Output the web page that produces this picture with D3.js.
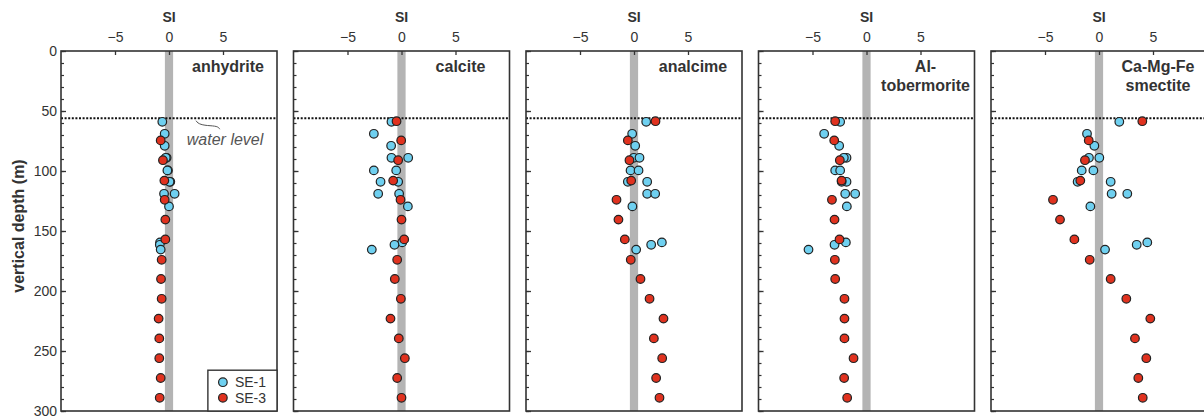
<!DOCTYPE html>
<html>
<head>
<meta charset="utf-8">
<script src="https://cdn.jsdelivr.net/npm/d3@7"></script>
<style>
  html, body { margin: 0; padding: 0; background: #fff; }
  svg { display: block; font-family: "Liberation Sans", Arial, sans-serif; }
</style>
</head>
<body>
<svg id="chart" width="1204" height="417"></svg>
<script>
// ---------------- DATA ----------------
const minerals = ["anhydrite", "calcite", "analcime", "Al-|tobermorite", "Ca-Mg-Fe|smectite"];
const siTicks = [-5, 0, 5];
const depthMajorTicks = [0, 50, 100, 150, 200, 250, 300];
const depthMinorTicks = d3.range(0, 301, 10);
const waterLevelDepth = 56;

// sampling depths (m)
const se1Depth = [59, 69, 79, 89, 89, 99.5, 99.5, 109, 109, 119, 119, 129.5, 159.5, 161.5, 165.5];
const se3Depth = [58.5, 74.5, 91, 108, 124, 140.5, 157, 174, 190, 206.5, 223, 239.5, 256, 272.5, 289];

// saturation indices, SE-1
const se1Anhydrite  = [-0.62, -0.4, -0.4, -0.22, -0.3, -0.1, -0.15, 0.12, 0.05, -0.46, 0.52, 0.0, -0.83, -0.85, -0.77];
const se1Calcite    = [-0.93, -2.56, -0.96, -0.93, 0.62, -2.56, -0.49, -1.94, -0.31, -2.16, -0.22, 0.59, 0.06, -0.65, -2.75];
const se1Analcime   = [1.13, -0.17, 0.11, -0.02, 0.51, -0.32, 0.42, -0.57, 1.22, 1.22, 1.96, -0.15, 2.58, 1.59, 0.2];
const se1Tobermorite= [-2.44, -3.92, -2.53, -1.85, -2.1, -2.9, -2.44, -1.85, -2.3, -1.97, -1.05, -1.82, -1.91, -2.96, -5.37];
const se1Smectite   = [1.88, -1.11, -0.43, -0.93, 0.03, -1.6, -0.52, -1.98, 1.08, 1.17, 2.62, -0.8, 4.47, 3.49, 0.56];

// saturation indices, SE-3
const se3Anhydrite  = [null, -0.77, -0.56, -0.43, -0.4, -0.34, -0.34, -0.68, -0.74, -0.68, -0.96, -0.9, -0.9, -0.77, -0.86];
const se3Calcite    = [-0.46, -0.03, -0.31, -0.77, -0.09, 0, 0.25, -0.4, -0.62, -0.06, -1.02, -0.25, 0.31, -0.4, 0];
const se3Analcime   = [1.99, -0.57, -0.42, -0.26, -1.62, -1.44, -0.85, -0.3, 0.6, 1.44, 2.73, 1.84, 2.61, 2.05, 2.36];
const se3Tobermorite= [-2.9, -2.99, -2.47, -2.31, -3.2, -2.96, -2.5, -2.93, -2.9, -2.04, -2.04, -2.04, -1.2, -2.07, -1.79];
const se3Smectite   = [4.01, -0.95, -1.3, -1.73, -4.26, -3.61, -2.28, -0.86, 1.08, 2.53, 4.75, 3.33, 4.38, 3.64, 4.05];

const se1Values = [se1Anhydrite, se1Calcite, se1Analcime, se1Tobermorite, se1Smectite];
const se3Values = [se3Anhydrite, se3Calcite, se3Analcime, se3Tobermorite, se3Smectite];
const seriesNames = ["SE-1", "SE-3"];

// ---------------- LAYOUT ----------------
const colors = { "SE-1": "#6fd0f0", "SE-3": "#e0321f" };
const plotTop = 51, plotBottom = 411;
const panelW = 216, panelStep = 232.5, firstLeft = 61;
const ink = "#333";

const svg = d3.select("#chart");
const y = d3.scaleLinear().domain([0, 300]).range([plotTop, plotBottom]);

minerals.forEach((m, i) => {
  const left = firstLeft + i * panelStep;
  const x = d3.scaleLinear().domain([-10, 10]).range([left, left + panelW]);
  const g = svg.append("g");

  // zero band
  g.append("rect")
    .attr("x", x(-0.38)).attr("y", plotTop)
    .attr("width", x(0.38) - x(-0.38)).attr("height", plotBottom - plotTop)
    .attr("fill", "#b4b4b4");

  // water level
  g.append("line")
    .attr("x1", left).attr("x2", left + panelW)
    .attr("y1", y(waterLevelDepth)).attr("y2", y(waterLevelDepth))
    .attr("stroke", "#111").attr("stroke-width", 2)
    .attr("stroke-dasharray", "2,1.6");

  // top axis
  const ax = g.append("g").attr("transform", `translate(0,${plotTop})`)
    .call(d3.axisTop(x).tickValues(siTicks).tickSizeInner(-4).tickSizeOuter(0).tickPadding(9)
      .tickFormat(d3.format("d")));
  ax.select(".domain").remove();
  ax.selectAll("line").attr("stroke", ink).attr("stroke-width", 1.3);
  ax.selectAll("text").attr("font-size", 14).attr("fill", ink)
    .attr("font-family", "Liberation Sans, Arial, sans-serif");

  svg.append("text").attr("x", x(0)).attr("y", 22)
    .attr("text-anchor", "middle").attr("font-weight", "bold")
    .attr("font-size", 14).attr("fill", ink).text("SI");

  // left ticks (minor)
  const aminor = g.append("g").attr("transform", `translate(${left},0)`)
    .call(d3.axisLeft(y).tickValues(depthMinorTicks).tickSizeInner(-3).tickSizeOuter(0).tickFormat(""));
  aminor.select(".domain").remove();
  aminor.selectAll("line").attr("stroke", ink).attr("stroke-width", 1.2);
  // left ticks (major)
  const amajor = g.append("g").attr("transform", `translate(${left},0)`)
    .call(d3.axisLeft(y).tickValues(depthMajorTicks).tickSizeInner(-5).tickSizeOuter(0).tickPadding(4)
      .tickFormat(i === 0 ? d3.format("d") : ""));
  amajor.select(".domain").remove();
  amajor.selectAll("line").attr("stroke", ink).attr("stroke-width", 1.3);
  amajor.selectAll("text").attr("font-size", 14).attr("fill", ink)
    .attr("font-family", "Liberation Sans, Arial, sans-serif");

  // points SE-1 then SE-3
  const pts1 = se1Depth.map((d, k) => ({ d, v: se1Values[i][k] })).filter(p => p.v !== null);
  const pts3 = se3Depth.map((d, k) => ({ d, v: se3Values[i][k] })).filter(p => p.v !== null);
  g.selectAll(".p1").data(pts1).enter().append("circle")
    .attr("cx", p => x(p.v)).attr("cy", p => y(p.d)).attr("r", 4.3)
    .attr("fill", colors["SE-1"]).attr("stroke", "#222").attr("stroke-width", 1.2);
  g.selectAll(".p3").data(pts3).enter().append("circle")
    .attr("cx", p => x(p.v)).attr("cy", p => y(p.d)).attr("r", 4.3)
    .attr("fill", colors["SE-3"]).attr("stroke", "#222").attr("stroke-width", 1.2);

  // mineral label
  const lines = m.split("|");
  const lx = x(0) + 59;
  lines.forEach((t, li) => {
    g.append("text").attr("x", lx).attr("y", 72 + li * 19)
      .attr("text-anchor", "middle").attr("font-weight", "bold")
      .attr("font-size", 16).attr("fill", ink).text(t);
  });

  // frame
  g.append("rect")
    .attr("x", left).attr("y", plotTop).attr("width", panelW).attr("height", plotBottom - plotTop)
    .attr("fill", "none").attr("stroke", ink).attr("stroke-width", 1.6);

  if (i === 0) {
    // water level annotation
    const wy = y(waterLevelDepth);
    g.append("path")
      .attr("d", `M${x(2.5)},${wy + 2.5} C${x(2.7)},${wy + 6} ${x(3.1)},${wy + 7} ${x(3.8)},${wy + 7.5} S${x(4.6)},${wy + 9} ${x(4.7)},${wy + 11}`)
      .attr("fill", "none").attr("stroke", "#555").attr("stroke-width", 1);
    g.append("text").attr("x", x(1.65)).attr("y", wy + 27)
      .attr("font-style", "italic").attr("font-size", 16).attr("fill", "#555")
      .text("water level");

    // legend
    const lgx = x(3.6), lgy = y(266);
    g.append("rect").attr("x", lgx).attr("y", lgy)
      .attr("width", left + panelW - lgx).attr("height", plotBottom - lgy)
      .attr("fill", "#fff").attr("stroke", ink).attr("stroke-width", 1.4);
    seriesNames.forEach((s, k) => {
      g.append("circle").attr("cx", lgx + 15).attr("cy", lgy + 12 + k * 15.6).attr("r", 4.3)
        .attr("fill", colors[s]).attr("stroke", "#222").attr("stroke-width", 1.2);
      g.append("text").attr("x", lgx + 27).attr("y", lgy + 17 + k * 15.6)
        .attr("font-size", 14).attr("fill", ink).text(s);
    });
  }
});

// y axis title
svg.append("text")
  .attr("transform", `translate(24,${(plotTop + plotBottom) / 2 - 5}) rotate(-90)`)
  .attr("text-anchor", "middle").attr("font-weight", "bold")
  .attr("font-size", 16).attr("fill", ink).text("vertical depth (m)");
</script>
</body>
</html>
